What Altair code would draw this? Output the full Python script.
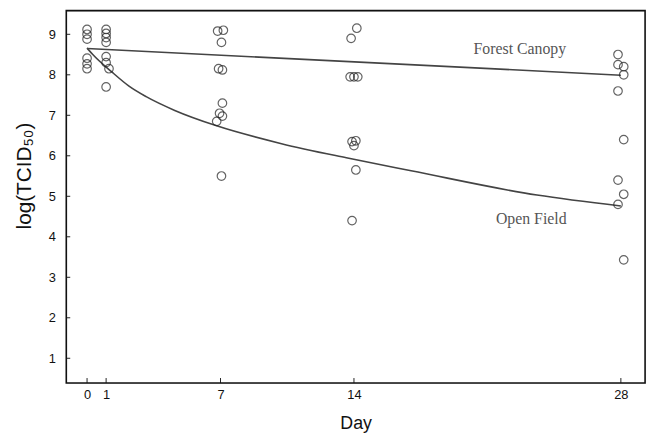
import altair as alt
import pandas as pd

# observations (day, log TCID50)
obs_day = [0, 0, 0, 0, 0, 0,
           1, 1, 1, 1, 1, 1, 1.15, 1,
           6.85, 7.15, 7.05, 6.9, 7.1, 7.1, 6.95, 7.1, 6.8, 7.05,
           14.15, 13.85, 13.8, 14.0, 14.2, 13.9, 14.1, 14.0, 14.1, 13.9,
           27.85, 27.85, 28.15, 28.15, 27.85, 28.15, 27.85, 28.15, 27.85, 28.15]
obs_val = [9.12, 9.0, 8.88, 8.41, 8.27, 8.15,
           9.12, 9.02, 8.92, 8.8, 8.45, 8.3, 8.15, 7.7,
           9.08, 9.1, 8.8, 8.15, 8.12, 7.3, 7.05, 6.98, 6.85, 5.5,
           9.15, 8.9, 7.95, 7.95, 7.95, 6.35, 6.37, 6.25, 5.65, 4.4,
           8.5, 8.25, 8.2, 8.0, 7.6, 6.4, 5.4, 5.05, 4.8, 3.43]

# fitted curves
forest_day = [0, 28]
forest_val = [8.65, 7.99]
open_day = [0, 0.3, 1.3, 2.2, 3.1, 4.6, 6.8, 10.2, 13.6, 17, 23.6, 28]
open_val = [8.66, 8.5, 8.07, 7.72, 7.46, 7.12, 6.74, 6.3, 5.95, 5.63, 5.03, 4.76]

labels = ["Forest Canopy", "Open Field"]
label_day = [22.7, 23.3]
label_val = [8.63, 4.44]

x_ticks = [0, 1, 7, 14, 28]
y_ticks = [1, 2, 3, 4, 5, 6, 7, 8, 9]

pts = pd.DataFrame({"day": obs_day, "val": obs_val})
forest = pd.DataFrame({"day": forest_day, "val": forest_val})
openf = pd.DataFrame({"day": open_day, "val": open_val})
lab = pd.DataFrame({"label": labels, "day": label_day, "val": label_val})
xt = pd.DataFrame({"t": x_ticks})
yt = pd.DataFrame({"t": y_ticks})

W, H = 586, 377
xs = alt.Scale(domain=[-1.09, 29.27], nice=False, zero=False)
ys = alt.Scale(domain=[0.39, 9.585], nice=False, zero=False)

X = alt.X("day:Q", scale=xs, title="Day",
          axis=alt.Axis(values=x_ticks, grid=False, ticks=False, domain=False,
                        labelFont="Liberation Sans", labelFontSize=13, labelColor="#111",
                        labelPadding=6, titleFont="Liberation Sans", titleFontSize=18,
                        titleFontWeight="normal", titleColor="#111", titlePadding=13))
Y = alt.Y("val:Q", scale=ys, title="log(TCID₅₀)",
          axis=alt.Axis(values=y_ticks, grid=False, ticks=False, domain=False,
                        labelFont="Liberation Sans", labelFontSize=13, labelColor="#111",
                        labelPadding=11, titleFont="Liberation Sans", titleFontSize=21,
                        titleFontWeight="normal", titleColor="#111",
                        titleX=-42, titleY=167, titleAngle=270,
                        titleAlign="center", titleBaseline="middle"))

frame = alt.Chart(pd.DataFrame({"a": [0]})).mark_rect(
    filled=False, stroke="#111", strokeWidth=1.6).encode(
    x=alt.value(0), x2=alt.value(W), y=alt.value(0), y2=alt.value(H))
points = alt.Chart(pts).mark_point(shape="circle", filled=False, size=75,
                                   color="#222", strokeWidth=1.2).encode(x=X, y=Y)
l1 = alt.Chart(forest).mark_line(color="#444", strokeWidth=1.6).encode(x=X, y=Y)
l2 = alt.Chart(openf).mark_line(color="#444", strokeWidth=1.6,
                                interpolate="monotone").encode(x=X, y=Y)
txt = alt.Chart(lab).mark_text(font="Liberation Serif", fontSize=16, color="#555",
                               align="center").encode(
    x=X, y=Y, text="label:N")
xtick = alt.Chart(xt).mark_rule(color="#222", strokeWidth=1).encode(
    x=alt.X("t:Q", scale=xs), y=alt.value(H), y2=alt.value(H - 5))
ytick = alt.Chart(yt).mark_rule(color="#222", strokeWidth=1).encode(
    y=alt.Y("t:Q", scale=ys), x=alt.value(0), x2=alt.value(4))

chart = alt.layer(l1, l2, points, txt, xtick, ytick, frame).properties(
    width=W, height=H,
    autosize=alt.AutoSizeParams(type="none"),
    padding={"left": 59, "top": 0, "right": 6, "bottom": 48},
).configure_view(stroke=None).configure(background="white")

chart.save("out.html", embed_options={"renderer": "svg", "actions": False})
